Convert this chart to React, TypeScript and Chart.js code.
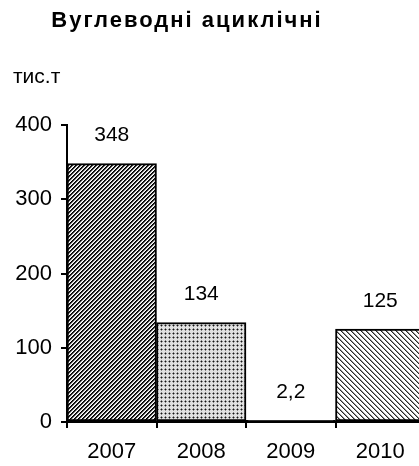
import React, { useEffect, useRef } from "react";
import { Chart, registerables } from "chart.js";

Chart.register(...registerables);

const categories = ["2007", "2008", "2009", "2010"];
const values = [348, 134, 2.2, 125];
const yTicks = [0, 100, 200, 300, 400];
const titleText = "Вуглеводні ациклічні";
const unitText = "тис.т";

const FONT = "'Liberation Sans', Arial, sans-serif";

function makePattern(kind: string): CanvasPattern | string {
  const size = kind === "dots" ? 4 : kind === "fwd" ? 4 : 5;
  const c = document.createElement("canvas");
  c.width = size;
  c.height = size;
  const ctx = c.getContext("2d")!;
  const img = ctx.createImageData(size, size);
  for (let y = 0; y < size; y++) {
    for (let x = 0; x < size; x++) {
      let v = 255;
      if (kind === "fwd") {
        const m = (x + y) % 4;
        v = m === 0 ? 0 : m === 1 ? 40 : m === 2 ? 200 : 255;
      } else if (kind === "back") {
        const m = (((x - y) % 5) + 5) % 5;
        v = m === 0 ? 40 : m === 1 ? 150 : 255;
      } else {
        if (x === 1 && y === 1) v = 20;
        else if ((x === 1 && (y === 0 || y === 2)) || (y === 1 && (x === 0 || x === 2))) v = 130;
        else v = 225;
      }
      const i = (y * size + x) * 4;
      img.data[i] = v;
      img.data[i + 1] = v;
      img.data[i + 2] = v;
      img.data[i + 3] = 255;
    }
  }
  ctx.putImageData(img, 0, 0);
  return ctx.createPattern(c, "repeat") || "#888";
}

export default function App() {
  const ref = useRef<HTMLCanvasElement | null>(null);
  useEffect(() => {
    if (!ref.current) return;
    const fills = [makePattern("fwd"), makePattern("dots"), "#000", makePattern("back")];
    const textPlugin = {
      id: "texts",
      afterDraw(chart: any) {
        const ctx = chart.ctx as CanvasRenderingContext2D;
        ctx.save();
        ctx.fillStyle = "#000";
        // title
        ctx.font = `bold 22px ${FONT}`;
        (ctx as any).letterSpacing = "2px";
        ctx.textAlign = "center";
        ctx.textBaseline = "middle";
        ctx.fillText(titleText, 187, 21);
        (ctx as any).letterSpacing = "0px";
        // unit
        ctx.font = `21px ${FONT}`;
        ctx.textAlign = "left";
        ctx.fillText(unitText, 13, 77);
        // value labels
        const meta = chart.getDatasetMeta(0);
        ctx.textAlign = "center";
        ctx.font = `21px ${FONT}`;
        meta.data.forEach((bar: any, i: number) => {
          const s = String(values[i]).replace(".", ",");
          ctx.fillText(s, bar.x, bar.y - 28);
        });
        ctx.restore();
      },
    };
    const chart = new Chart(ref.current, {
      type: "bar",
      data: {
        labels: categories,
        datasets: [
          {
            data: values,
            backgroundColor: fills as any,
            borderColor: "#000",
            borderWidth: 2,
            borderSkipped: false,
            barPercentage: 1,
            categoryPercentage: 1,
          },
        ],
      },
      options: {
        animation: false,
        responsive: false,
        devicePixelRatio: 1,
        layout: { padding: { top: 125, right: 1, left: 0, bottom: 0 } },
        plugins: { legend: { display: false }, title: { display: false }, tooltip: { enabled: false } },
        scales: {
          x: {
            offset: true,
            grid: {
              offset: true,
              drawOnChartArea: false,
              drawTicks: true,
              tickLength: 6,
              tickColor: "#000",
              lineWidth: 2,
            },
            border: { display: true, color: "#000", width: 2 },
            ticks: { color: "#000", font: { family: FONT, size: 22 }, padding: 11 },
            afterFit(scale: any) {
              scale.height = 44;
            },
          },
          y: {
            min: 0,
            max: 400,
            afterBuildTicks(scale: any) {
              scale.ticks = yTicks.map((v) => ({ value: v }));
            },
            grid: {
              drawOnChartArea: false,
              drawTicks: true,
              tickLength: 6,
              tickColor: "#000",
              lineWidth: 2,
            },
            border: { display: true, color: "#000", width: 2 },
            ticks: { color: "#000", font: { family: FONT, size: 22 }, padding: 9 },
            afterFit(scale: any) {
              scale.width = 67;
            },
          },
        },
      },
      plugins: [textPlugin],
    });
    return () => chart.destroy();
  }, []);
  return (
    <div style={{ position: "fixed", left: 0, top: 0, width: 419, height: 466, overflow: "hidden", background: "#fff" }}>
      <canvas ref={ref} width={426} height={466} style={{ display: "block", width: 426, height: 466 }} />
    </div>
  );
}
